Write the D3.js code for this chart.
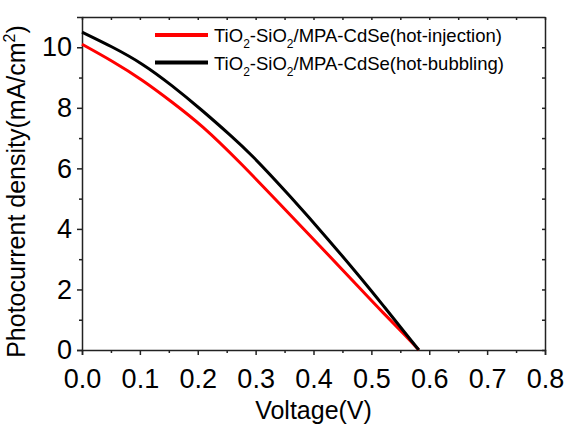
<!DOCTYPE html>
<html>
<head>
<meta charset="utf-8">
<script src="https://cdn.jsdelivr.net/npm/d3@7"></script>
<style>
  body { margin: 0; background: #fff; }
  svg { display: block; font-family: "Liberation Sans", Arial, sans-serif; }
  .axis path, .axis line { stroke: #222; stroke-width: 1.5; }
  .axis text { font-size: 27px; fill: #000; }
</style>
</head>
<body>
<div id="chart"></div>
<script>
// J-V 曲线数据
const injV = [0, 0.052, 0.104, 0.155, 0.207, 0.273, 0.342, 0.411, 0.480, 0.52, 0.561, 0.582];
const injJ = [10.1, 9.55, 8.93, 8.2, 7.43, 6.2, 4.82, 3.44, 2.04, 1.23, 0.44, 0];
const bubV = [0, 0.052, 0.104, 0.155, 0.207, 0.259, 0.290, 0.359, 0.428, 0.480, 0.52, 0.561, 0.582];
const bubJ = [10.5, 10.02, 9.47, 8.75, 7.93, 7.05, 6.51, 5.1, 3.6, 2.42, 1.48, 0.5, 0];

const xTicks = [0, 0.1, 0.2, 0.3, 0.4, 0.5, 0.6, 0.7, 0.8];
const xMinor = [0.05, 0.15, 0.25, 0.35, 0.45, 0.55, 0.65, 0.75];
const yTicks = [0, 2, 4, 6, 8, 10];
const yMinor = [1, 3, 5, 7, 9];

const seriesNames = ['hot-injection', 'hot-bubbling'];
const seriesColors = ['#ff0000', '#000000'];

const width = 566, height = 425;
const m = { left: 82, right: 21, top: 17, bottom: 75 };

const svg = d3.select('#chart').append('svg').attr('width', width).attr('height', height);

const x = d3.scaleLinear().domain([0, 0.8]).range([m.left, width - m.right]);
const y = d3.scaleLinear().domain([0, 11]).range([height - m.bottom, m.top]);

// 坐标轴：左、下刻度朝外，上、右刻度朝内
const fmtX = d3.format('.1f');
svg.append('g').attr('class', 'axis')
    .attr('transform', `translate(0,${y(0)})`)
    .call(d3.axisBottom(x).tickValues(xTicks).tickFormat(fmtX).tickSize(5).tickPadding(14));
svg.append('g').attr('class', 'axis')
    .attr('transform', `translate(0,${y(0)})`)
    .call(d3.axisBottom(x).tickValues(xMinor).tickFormat('').tickSize(3))
    .select('.domain').remove();

svg.append('g').attr('class', 'axis')
    .attr('transform', `translate(${x(0)},0)`)
    .call(d3.axisLeft(y).tickValues(yTicks).tickSize(5).tickPadding(5));
svg.append('g').attr('class', 'axis')
    .attr('transform', `translate(${x(0)},0)`)
    .call(d3.axisLeft(y).tickValues(yMinor).tickFormat('').tickSize(3))
    .select('.domain').remove();

svg.append('g').attr('class', 'axis')
    .attr('transform', `translate(0,${m.top})`)
    .call(d3.axisBottom(x).tickValues(xTicks.concat(xMinor)).tickFormat('').tickSizeInner(3).tickSizeOuter(0));
svg.append('g').attr('class', 'axis')
    .attr('transform', `translate(${width - m.right},0)`)
    .call(d3.axisLeft(y).tickValues(yTicks.concat(yMinor)).tickFormat('').tickSizeInner(3).tickSizeOuter(0));

// 曲线
const line = d3.line().curve(d3.curveBasis)
    .x(d => x(d[0])).y(d => y(d[1]));

const series = [d3.zip(injV, injJ), d3.zip(bubV, bubJ)];
svg.append('g').selectAll('path').data(series).join('path')
    .attr('d', line)
    .attr('fill', 'none')
    .attr('stroke', (d, i) => seriesColors[i])
    .attr('stroke-width', 3);

// 图例
const legend = svg.append('g').attr('font-size', 18.5);
seriesNames.forEach(function (name, i) {
    const ly = 35 + i * 27.5;
    legend.append('line').attr('x1', 155).attr('x2', 208).attr('y1', ly).attr('y2', ly)
        .attr('stroke', seriesColors[i]).attr('stroke-width', 4);
    const t = legend.append('text').attr('x', 214).attr('y', ly + 7);
    t.append('tspan').text('TiO');
    t.append('tspan').attr('dy', 6).attr('font-size', 12).text('2');
    t.append('tspan').attr('dy', -6).text('-SiO');
    t.append('tspan').attr('dy', 6).attr('font-size', 12).text('2');
    t.append('tspan').attr('dy', -6).text('/MPA-CdSe(' + name + ')');
});

// 轴标题
svg.append('text').attr('x', (x(0) + x(0.8)) / 2).attr('y', 419)
    .attr('text-anchor', 'middle').attr('font-size', 25).text('Voltage(V)');

const yt = svg.append('text')
    .attr('transform', `translate(25,${(y(0) + y(11)) / 2 + 8}) rotate(-90)`)
    .attr('text-anchor', 'middle').attr('font-size', 25);
yt.append('tspan').text('Photocurrent density(mA/cm');
yt.append('tspan').attr('dy', -10).attr('font-size', 16).text('2');
yt.append('tspan').attr('dy', 10).text(')');
</script>
</body>
</html>
